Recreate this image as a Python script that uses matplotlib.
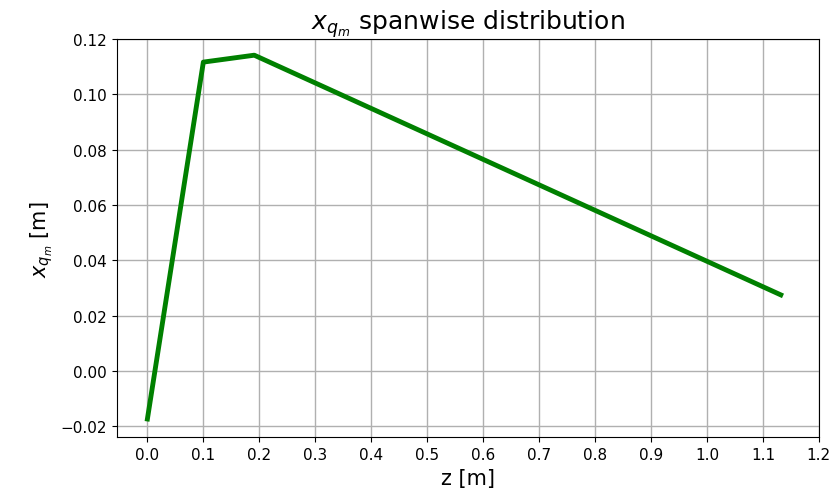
import numpy as np
import matplotlib.pyplot as plt

# spanwise stations and chordwise position of x_qm
z = [0.0, 0.1, 0.191, 1.132]
x_qm = [-0.0174, 0.1117, 0.1142, 0.0275]

fig, ax = plt.subplots(figsize=(8.33, 5.02), dpi=100)
ax.plot(z, x_qm, color="green", linewidth=3.5)

ax.set_xlim(-0.055, 1.2)
ax.set_ylim(-0.024, 0.12)
ax.set_xticks(np.arange(0, 1.21, 0.1))
ax.set_yticks(np.arange(-0.02, 0.121, 0.02))
ax.tick_params(labelsize=11)
ax.grid(True, color="#b0b0b0", linewidth=1)

ax.set_xlabel("z [m]", fontsize=15)
ax.set_ylabel(r"$x_{q_m}$ [m]", fontsize=15)
ax.set_title(r"$x_{q_m}$ spanwise distribution", fontsize=18)

fig.subplots_adjust(left=0.14, right=0.983, top=0.92, bottom=0.127)
fig.savefig("out.png", dpi=100)
